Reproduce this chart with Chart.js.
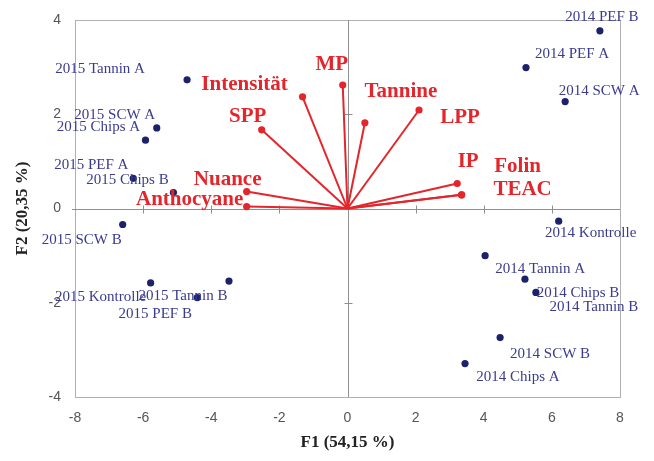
<!DOCTYPE html>
<html>
<head>
<meta charset="utf-8">
<style>
  html, body { margin: 0; padding: 0; background: #fff; }
  #wrap { width: 654px; height: 461px; }
</style>
<script src="https://cdn.jsdelivr.net/npm/chart.js@4/dist/chart.umd.min.js"></script>
</head>
<body>
<div id="wrap"><canvas id="c" width="654" height="461"></canvas></div>
<script>
// Observations (wine samples): scores on F1 and F2
const obsNames = ['2015 Tannin A', '2015 SCW A', '2015 Chips A', '2015 PEF A', '2015 Chips B',
  '2015 SCW B', '2015 Kontrolle', '2015 Tannin B', '2015 PEF B',
  '2014 PEF B', '2014 PEF A', '2014 SCW A', '2014 Kontrolle', '2014 Tannin A',
  '2014 Chips B', '2014 Tannin B', '2014 SCW B', '2014 Chips A'];
const obsF1 = [-4.71, -5.60, -5.93, -6.29, -5.11, -6.60, -5.78, -3.48, -4.41,
  7.41, 5.24, 6.39, 6.20, 4.04, 5.21, 5.53, 4.48, 3.45];
const obsF2 = [2.73, 1.71, 1.45, 0.64, 0.34, -0.34, -1.58, -1.54, -1.89,
  3.77, 2.99, 2.27, -0.27, -1.00, -1.50, -1.78, -2.74, -3.29];

// Variables (loadings, scaled for the biplot)
const varNames = ['MP', 'Intensität', 'SPP', 'Nuance', 'Anthocyane', 'Tannine', 'LPP', 'IP', 'Folin', 'TEAC'];
const varF1 = [-0.14, -1.32, -2.52, -2.96, -2.96, 0.51, 2.10, 3.22, 3.35, 3.35];
const varF2 = [2.62, 2.37, 1.67, 0.36, 0.04, 1.82, 2.09, 0.53, 0.29, 0.29];

// Axis ranges and tick step
const xRange = [-8, 8];
const yRange = [-4, 4];
const tickStep = 2;

// Label placement (pixel offsets of label centre from its mark)
const obsLabelOffsets = [
  [-87, -11], [-42, -13], [-47, -13], [-42, -13], [-46, -12],
  [-41, 16], [-50, 14], [-46, 15], [-42, 16],
  [2, -14], [46, -14], [34, -10], [32, 12], [55, 13],
  [53, 14], [58, 15], [50, 16], [53, 14]
];
const varLabelOffsets = [
  [-11, -20], [-58, -12], [-14, -13], [-19, -12], [-57, -7],
  [36, -31], [41, 8], [11, -22], [56, -28], [61, -5]
];

const RED = '#e3262b';
const NAVY = '#1c216b';
const NAVY_TEXT = '#3b3b8e';
const FRAME = '#b0b0b0';
const AXIS0 = '#8f8f8f';

const obsData = obsF1.map((x, i) => ({ x: x, y: obsF2[i] }));

const vectorSets = varNames.map((name, i) => ({
  label: name,
  type: 'scatter',
  showLine: true,
  data: [{ x: 0, y: 0 }, { x: varF1[i], y: varF2[i] }],
  borderColor: RED,
  backgroundColor: RED,
  borderWidth: 2,
  pointRadius: [0, 3.6],
  pointHoverRadius: [0, 3.6],
  pointBorderWidth: 0,
  order: 2
}));

// Frame around plot area plus axes through the origin with cross ticks
const framePlugin = {
  id: 'frame',
  beforeDatasetsDraw(chart) {
    const { ctx, chartArea: a, scales: { x, y } } = chart;
    ctx.save();
    ctx.strokeStyle = FRAME;
    ctx.lineWidth = 1;
    ctx.strokeRect(Math.round(a.left) + 0.5, Math.round(a.top) + 0.5,
      Math.round(a.right - a.left), Math.round(a.bottom - a.top));
    const x0 = Math.round(x.getPixelForValue(0)) + 0.5;
    const y0 = Math.round(y.getPixelForValue(0)) + 0.5;
    ctx.strokeStyle = AXIS0;
    ctx.beginPath();
    ctx.moveTo(a.left - 3, y0); ctx.lineTo(a.right, y0);
    ctx.moveTo(x0, a.top); ctx.lineTo(x0, a.bottom);
    for (let v = xRange[0] + tickStep; v < xRange[1]; v += tickStep) {
      if (v === 0) continue;
      const px = Math.round(x.getPixelForValue(v)) + 0.5;
      ctx.moveTo(px, y0 - 4); ctx.lineTo(px, y0 + 4);
    }
    for (let v = yRange[0] + tickStep; v < yRange[1]; v += tickStep) {
      if (v === 0) continue;
      const py = Math.round(y.getPixelForValue(v)) + 0.5;
      ctx.moveTo(x0 - 4, py); ctx.lineTo(x0 + 4, py);
    }
    ctx.stroke();
    ctx.restore();
  }
};

// Text labels for observations and variables
const labelPlugin = {
  id: 'labels',
  afterDatasetsDraw(chart) {
    const { ctx } = chart;
    ctx.save();
    ctx.textAlign = 'center';
    ctx.textBaseline = 'middle';
    const obsMeta = chart.getDatasetMeta(0);
    ctx.font = '15px "Liberation Serif", "Times New Roman", serif';
    ctx.fillStyle = NAVY_TEXT;
    obsMeta.data.forEach((pt, i) => {
      const o = obsLabelOffsets[i];
      ctx.fillText(obsNames[i], pt.x + o[0], pt.y + o[1]);
    });
    ctx.font = 'bold 21px "Liberation Serif", "Times New Roman", serif';
    ctx.fillStyle = RED;
    varNames.forEach((name, i) => {
      const pt = chart.getDatasetMeta(i + 1).data[1];
      const o = varLabelOffsets[i];
      ctx.fillText(name, pt.x + o[0], pt.y + o[1]);
    });
    ctx.restore();
  }
};

const tickFont = { family: '"Liberation Sans", Arial, sans-serif', size: 14 };
const titleFont = { family: '"Liberation Serif", "Times New Roman", serif', size: 17, weight: 'bold' };
const noTick = 'rgba(0,0,0,0)';

new Chart(document.getElementById('c'), {
  type: 'scatter',
  data: {
    datasets: [{
      label: 'Beobachtungen',
      data: obsData,
      backgroundColor: NAVY,
      borderColor: NAVY,
      pointRadius: 3.6,
      pointHoverRadius: 3.6,
      pointBorderWidth: 0,
      order: 1
    }].concat(vectorSets)
  },
  options: {
    responsive: false,
    animation: false,
    events: [],
    layout: { padding: { left: 0, right: 34, top: 20, bottom: 0 } },
    plugins: { legend: { display: false }, tooltip: { enabled: false } },
    scales: {
      x: {
        type: 'linear',
        min: xRange[0], max: xRange[1],
        ticks: { stepSize: tickStep, color: '#555', font: tickFont, padding: 9 },
        grid: { drawOnChartArea: false, drawTicks: true, tickLength: 4, color: noTick },
        border: { display: false },
        title: { display: true, text: 'F1 (54,15 %)', color: '#222', font: titleFont, padding: { top: 0, bottom: 8 } },
        afterFit(s) { s.height = 64; }
      },
      y: {
        type: 'linear',
        min: yRange[0], max: yRange[1],
        ticks: { stepSize: tickStep, color: '#555', font: tickFont, padding: 10 },
        grid: { drawOnChartArea: false, drawTicks: true, tickLength: 4, color: noTick },
        border: { display: false },
        title: { display: true, text: 'F2 (20,35 %)', color: '#222', font: titleFont, padding: { top: 12, bottom: 0 } },
        afterFit(s) { s.width = 75; }
      }
    }
  },
  plugins: [framePlugin, labelPlugin]
});
</script>
</body>
</html>
